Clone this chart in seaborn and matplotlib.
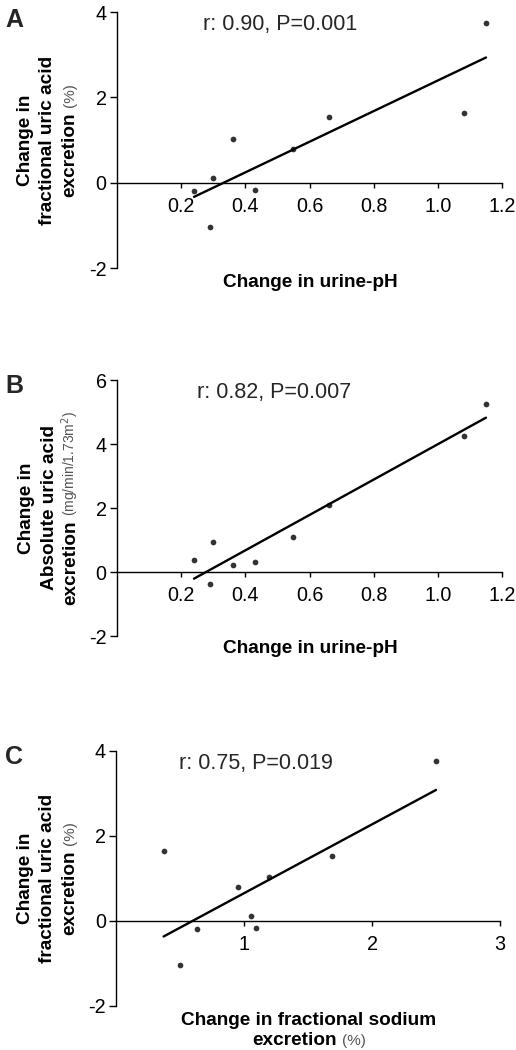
import matplotlib
matplotlib.use("Agg")
import matplotlib.pyplot as plt
import seaborn as sns
from matplotlib.transforms import IdentityTransform

# Dados (9 pacientes)
ph_change = [0.24, 0.29, 0.30, 0.36, 0.43, 0.55, 0.66, 1.08, 1.15]
fena_change = [0.63, 0.50, 1.05, 1.19, 1.09, 0.95, 1.69, 0.37, 2.50]
frac_ua_change = [-0.20, -1.05, 0.10, 1.03, -0.18, 0.79, 1.53, 1.64, 3.75]
abs_ua_change = [0.36, -0.36, 0.95, 0.22, 0.30, 1.09, 2.09, 4.25, 5.26]

stats_labels = ["r: 0.90, P=0.001", "r: 0.82, P=0.007", "r: 0.75, P=0.019"]
panel_letters = ["A", "B", "C"]
ph_ticks = [0.2, 0.4, 0.6, 0.8, 1.0, 1.2]
fena_ticks = [1, 2, 3]
frac_yticks = [-2, 0, 2, 4]
abs_yticks = [-2, 0, 2, 4, 6]

W, H = 516, 1050
BOLD = 13.7
UNIT_GRAY = "#555555"

sns.set_theme(style="white")
plt.rcParams['font.family'] = ['Liberation Sans', 'DejaVu Sans']
plt.rcParams['axes.unicode_minus'] = False

fig = plt.figure(figsize=(W / 100, H / 100), dpi=100)


def add_axes_px(left, right, top, bottom):
    return fig.add_axes([left / W, 1 - bottom / H, (right - left) / W, (bottom - top) / H])


def draw_line(parts, center, base, vertical, gap=5):
    # desenha uma linha de texto com partes em estilos diferentes (em pixels)
    renderer = fig.canvas.get_renderer()
    texts, lengths = [], []
    for s, size, weight, color in parts:
        t = fig.text(0, 0, s, fontsize=size, fontweight=weight, color=color,
                     rotation=90 if vertical else 0, rotation_mode='anchor',
                     ha='left', va='baseline', transform=IdentityTransform())
        bb = t.get_window_extent(renderer)
        texts.append(t)
        lengths.append(bb.height if vertical else bb.width)
    total = sum(lengths) + gap * (len(parts) - 1)
    if vertical:
        pos = (H - center) - total / 2
        xb = base
    else:
        pos = center - total / 2
        yb = H - base
    for t, L in zip(texts, lengths):
        if vertical:
            t.set_position((xb, pos))
        else:
            t.set_position((pos, yb))
        pos += L + gap


def style_axes(ax, xlim, ylim, xticks, yticks, xfmt):
    ax.set_xlim(*xlim)
    ax.set_ylim(*ylim)
    ax.set_xticks(xticks)
    ax.set_xticklabels([xfmt.format(v) for v in xticks])
    ax.set_yticks(yticks)
    ax.set_yticklabels([str(v) for v in yticks])
    sns.despine(ax=ax)
    ax.spines['bottom'].set_position(('data', 0))
    for sp in ['left', 'bottom']:
        ax.spines[sp].set_color('black')
        ax.spines[sp].set_linewidth(1.0)
    ax.tick_params(axis='x', direction='out', length=3.5, width=1.0, pad=6.5,
                   labelsize=14.2, colors='black', bottom=True)
    ax.tick_params(axis='y', direction='out', length=5, width=1.0, pad=2.5,
                   labelsize=14.2, colors='black', left=True)
    ax.set_xlabel('')
    ax.set_ylabel('')
    ax.grid(False)


def scatter_fit(ax, x, y):
    sns.regplot(x=x, y=y, ax=ax, ci=None, truncate=True,
                scatter_kws=dict(s=17, color='black', linewidths=0),
                line_kws=dict(color='black', lw=1.7))


# ---------- Painel A ----------
axA = add_axes_px(117, 502, 12, 268)
scatter_fit(axA, ph_change, frac_ua_change)
style_axes(axA, (0, 1.2), (-2, 4), ph_ticks, frac_yticks, "{:.1f}")
axA.text(0.268, 3.70, stats_labels[0], fontsize=15.5, va='center', ha='left')

# ---------- Painel B ----------
axB = add_axes_px(117, 502, 380, 636)
scatter_fit(axB, ph_change, abs_ua_change)
style_axes(axB, (0, 1.2), (-2, 6), ph_ticks, abs_yticks, "{:.1f}")
axB.text(0.249, 5.61, stats_labels[1], fontsize=15.5, va='center', ha='left')

# ---------- Painel C ----------
axC = add_axes_px(116.3, 500, 750.7, 1005.7)
scatter_fit(axC, fena_change, frac_ua_change)
style_axes(axC, (0, 3), (-2, 4), fena_ticks, frac_yticks, "{:d}")
axC.text(0.49, 3.70, stats_labels[2], fontsize=15.5, va='center', ha='left')

# letras dos painéis
for letter, yc in zip(panel_letters, [20, 385.7, 756.7]):
    fig.text(5 / W, 1 - yc / H, letter, fontsize=18, fontweight='bold',
             ha='left', va='center')

# rótulos do eixo y
for yc in [140, 878]:
    draw_line([("Change in", BOLD, 'bold', 'black')], yc, 30, True)
    draw_line([("fractional uric acid", BOLD, 'bold', 'black')], yc, 52.5, True)
    draw_line([("excretion", BOLD, 'bold', 'black'),
               ("(%)", 11, 'normal', UNIT_GRAY)], yc, 74.5, True)

draw_line([("Change in", BOLD, 'bold', 'black')], 508, 31, True)
draw_line([("Absolute uric acid", BOLD, 'bold', 'black')], 508, 53.5, True)
draw_line([("excretion", BOLD, 'bold', 'black'),
           ("(mg/min/1.73m$^2$)", 10, 'normal', UNIT_GRAY)], 508, 75, True)

# rótulos do eixo x
draw_line([("Change in urine-pH", BOLD, 'bold', 'black')], 310, 286.7, False)
draw_line([("Change in urine-pH", BOLD, 'bold', 'black')], 310, 653.3, False)
draw_line([("Change in fractional sodium", BOLD, 'bold', 'black')], 309, 1025, False)
draw_line([("excretion", BOLD, 'bold', 'black'),
           ("(%)", 11, 'normal', UNIT_GRAY)], 309, 1045, False)

fig.savefig("out.png", dpi=100, facecolor='white')
plt.close(fig)
